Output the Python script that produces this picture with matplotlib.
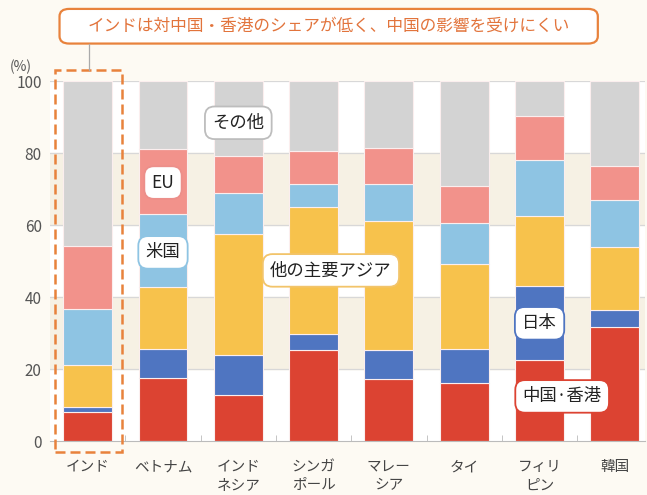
import matplotlib
matplotlib.use("Agg")
import matplotlib.pyplot as plt
from matplotlib.patches import Rectangle, FancyBboxPatch
import numpy as np

plt.rcParams['font.family'] = ['Noto Sans CJK JP', 'DejaVu Sans']

# --- datos ---
paises = ["インド", "ベトナム", "インド\nネシア", "シンガ\nポール", "マレー\nシア",
          "タイ", "フィリ\nピン", "韓国"]
china_hk = [8.1, 17.6, 12.7, 25.2, 17.2, 16.2, 22.6, 31.7]
japon = [1.4, 8.1, 11.1, 4.6, 8.0, 9.5, 20.6, 4.6]
otras_asia = [11.5, 17.0, 33.7, 35.1, 36.0, 23.5, 19.4, 17.5]
eeuu = [15.8, 20.4, 11.5, 6.5, 10.2, 11.5, 15.4, 13.2]
ue = [17.5, 18.0, 10.2, 9.2, 10.1, 10.2, 12.3, 9.5]
otros = [45.7, 18.9, 20.8, 19.4, 18.5, 29.1, 9.7, 23.5]

series = [china_hk, japon, otras_asia, eeuu, ue, otros]
nombres = ["中国·香港", "日本", "他の主要アジア", "米国", "EU", "その他"]
colores = ["#dc4332", "#4f75c1", "#f7c24c", "#8ec4e3", "#f2928b", "#d3d3d3"]

fondo = "#fdfaf3"
crema = "#f6f1e4"
naranja = "#e8823c"

fig = plt.figure(figsize=(6.47, 4.95), dpi=100, facecolor=fondo)
ax = fig.add_axes([0.0773, 0.109, 0.9196, 0.7273])
ax.set_facecolor("white")

# bandas alternas
for y0 in (20, 60):
    ax.axhspan(y0, y0 + 20, color=crema, zorder=0)
for y in (20, 40, 60, 80, 100):
    ax.axhline(y, color="#d8d8d8", lw=0.9, zorder=1)

x = np.arange(len(paises))
base = np.zeros(len(paises))
for vals, col in zip(series, colores):
    ax.bar(x, vals, width=0.65, bottom=base, color=col, edgecolor="#fbeeee",
           linewidth=0.8, zorder=2)
    base += np.array(vals)

ax.set_xlim(-0.5, 7.4)
ax.set_ylim(0, 100)
ax.set_yticks([0, 20, 40, 60, 80, 100])
ax.tick_params(axis="y", length=0, labelsize=11, labelcolor="#555555", pad=6)
ax.set_xticks(x)
ax.set_xticklabels(paises, fontsize=10.5, color="#444444", linespacing=1.35)
ax.tick_params(axis="x", length=0, pad=14)
ax.set_xticks(x[:-1] + 0.5, minor=True)
ax.tick_params(axis="x", which="minor", direction="in", length=4, color="#bbbbbb")
for s in ("top", "right", "left"):
    ax.spines[s].set_visible(False)
ax.spines["bottom"].set_color("#bbbbbb")

ax.text(-0.03, 1.02, "(%)", transform=ax.transAxes, ha="right", va="bottom",
        fontsize=10, color="#555555")

# etiquetas de las series
etiquetas = [
    (nombres[5], 2.0, 88.4, "#bdbdbd"),
    (nombres[4], 1.0, 71.8, "#ec8f8a"),
    (nombres[3], 1.0, 52.4, "#8ec4e3"),
    (nombres[2], 3.23, 47.4, "#f2c46a"),
    (nombres[1], 6.0, 32.7, "#4f75c1"),
    (nombres[0], 6.3, 12.4, "#dc4332"),
]
for txt, xe, ye, borde in etiquetas:
    ax.text(xe, ye, txt, ha="center", va="center", fontsize=12.5, color="#222222",
            zorder=5,
            bbox=dict(boxstyle="round,pad=0.42,rounding_size=0.55", fc="white",
                      ec=borde, lw=1.3))

# recuadro punteado de India
ax.add_patch(Rectangle((-0.434, -3), 0.89, 106, fill=False, ls=(0, (4, 2)),
                       ec=naranja, lw=1.8, clip_on=False, zorder=6))

# llamada superior
fig.add_artist(FancyBboxPatch((0.092, 0.912), 0.832, 0.07,
                              boxstyle="round,pad=0,rounding_size=0.015",
                              transform=fig.transFigure, fc="white",
                              ec=naranja, lw=1.6))
fig.text(0.508, 0.947, "インドは対中国・香港のシェアが低く、中国の影響を受けにくい",
         ha="center", va="center", fontsize=12, color="#e2743c")
fig.add_artist(plt.Line2D([0.1375, 0.1375], [0.859, 0.912], color="#aaaaaa",
                          lw=0.9, transform=fig.transFigure))

fig.savefig("out.png", dpi=100, facecolor=fondo)
